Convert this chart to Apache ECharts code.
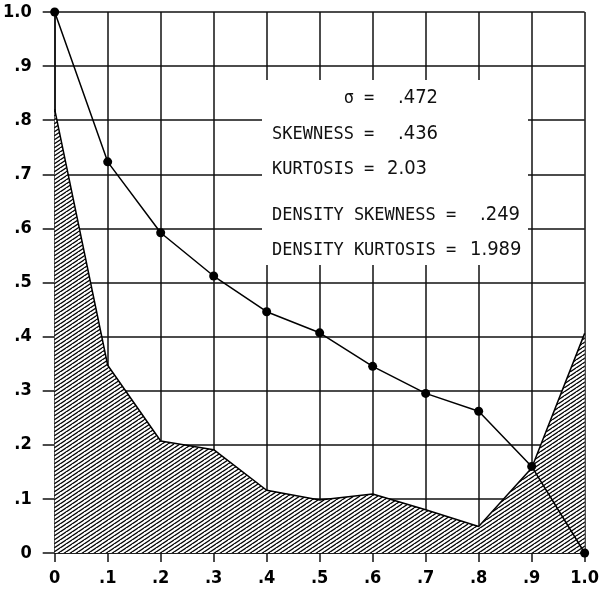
<!DOCTYPE html>
<html>
<head>
<meta charset="utf-8">
<script src="https://cdn.jsdelivr.net/npm/echarts@6/dist/echarts.min.js"></script>
<style>html,body{margin:0;padding:0;background:#fff;}#c{width:602px;height:595px;}</style>
</head>
<body>
<div id="c"></div>
<script>
const xValues = [0, 0.1, 0.2, 0.3, 0.4, 0.5, 0.6, 0.7, 0.8, 0.9, 1.0];
const cdfValues = [1.0, 0.723, 0.592, 0.512, 0.446, 0.407, 0.345, 0.295, 0.262, 0.16, 0.0];
const densityValues = [0.82, 0.347, 0.207, 0.191, 0.116, 0.098, 0.109, 0.08, 0.049, 0.157, 0.406];
const xTickLabels = ['0', '.1', '.2', '.3', '.4', '.5', '.6', '.7', '.8', '.9', '1.0'];
const yTickLabels = ['0', '.1', '.2', '.3', '.4', '.5', '.6', '.7', '.8', '.9', '1.0'];
const statLines = [
  { label: '       \u03c3 =', value: '.472' },
  { label: 'SKEWNESS =', value: '.436' },
  { label: 'KURTOSIS =', value: '2.03' },
  { label: 'DENSITY SKEWNESS =', value: '.249' },
  { label: 'DENSITY KURTOSIS =', value: '1.989' }
];

// hatch pattern (diagonal lines rising to the right)
const pat = document.createElement('canvas');
pat.width = 6; pat.height = 4;
const pc = pat.getContext('2d');
pc.fillStyle = '#fff'; pc.fillRect(0, 0, 6, 4);
pc.strokeStyle = '#000'; pc.lineWidth = 1.3;
pc.beginPath();
for (let k = -1; k <= 1; k++) {
  pc.moveTo(-6 + k * 6, 4 + 4); pc.lineTo(6 + k * 6, 4 - 4);
  pc.moveTo(-6 + k * 6 + 6, 4 + 4); pc.lineTo(6 + k * 6 + 6, 4 - 4);
}
pc.stroke();

const chart = echarts.init(document.getElementById('c'), null, { renderer: 'canvas' });
const axisFont = { fontFamily: 'DejaVu Sans Condensed', fontWeight: 'bold', fontSize: 18, color: '#000' };
const lineCol = '#111';

const textX = 272;
const lineYs = [98, 134, 169, 215, 250];
const valueXs = [398, 398, 387, 480, 470];
const graphics = [{
  type: 'rect', z: 100,
  shape: { x: 262, y: 80, width: 266, height: 185 },
  style: { fill: '#fff' }
}];
statLines.forEach((s, i) => {
  graphics.push({
    type: 'text', z: 101, x: textX, y: lineYs[i] + 1,
    style: { text: s.label, font: '17px "DejaVu Sans Mono"', fill: '#111', textVerticalAlign: 'middle', verticalAlign: 'middle' }
  });
  graphics.push({
    type: 'text', z: 101, x: valueXs[i], y: lineYs[i],
    style: { text: s.value, font: '20px "DejaVu Sans Condensed"', fill: '#111', textVerticalAlign: 'middle', verticalAlign: 'middle' }
  });
});

chart.setOption({
  animation: false,
  backgroundColor: '#fff',
  grid: { left: 52, right: 15, top: 12, bottom: 42, containLabel: false },
  xAxis: {
    type: 'value', min: 0, max: 1, interval: 0.1,
    axisLine: { show: true, onZero: false, lineStyle: { color: lineCol, width: 1.5 } },
    axisTick: { show: true, length: 9, lineStyle: { color: lineCol, width: 1.5 } },
    splitLine: { show: true, lineStyle: { color: lineCol, width: 1.5 } },
    axisLabel: Object.assign({ margin: 16, formatter: v => xTickLabels[Math.round(v * 10)] }, axisFont)
  },
  yAxis: {
    type: 'value', min: 0, max: 1, interval: 0.1,
    axisLine: { show: true, onZero: false, lineStyle: { color: lineCol, width: 1.5 } },
    axisTick: { show: true, length: 12, lineStyle: { color: lineCol, width: 1.5 } },
    splitLine: { show: true, lineStyle: { color: lineCol, width: 1.5 } },
    axisLabel: Object.assign({ margin: 23, formatter: v => yTickLabels[Math.round(v * 10)] }, axisFont)
  },
  graphic: graphics,
  series: [
    {
      type: 'line', z: 3,
      data: xValues.map((x, i) => [x, densityValues[i]]),
      showSymbol: false, symbol: 'none',
      lineStyle: { color: '#000', width: 1.5 },
      areaStyle: { color: { image: pat, repeat: 'repeat' }, opacity: 1, origin: 'start' },
      clip: false
    },
    {
      type: 'line', z: 5,
      data: xValues.map((x, i) => [x, cdfValues[i]]),
      symbol: 'circle', symbolSize: 9,
      itemStyle: { color: '#000' },
      lineStyle: { color: '#000', width: 1.5 },
      clip: false
    }
  ]
});
</script>
</body>
</html>
